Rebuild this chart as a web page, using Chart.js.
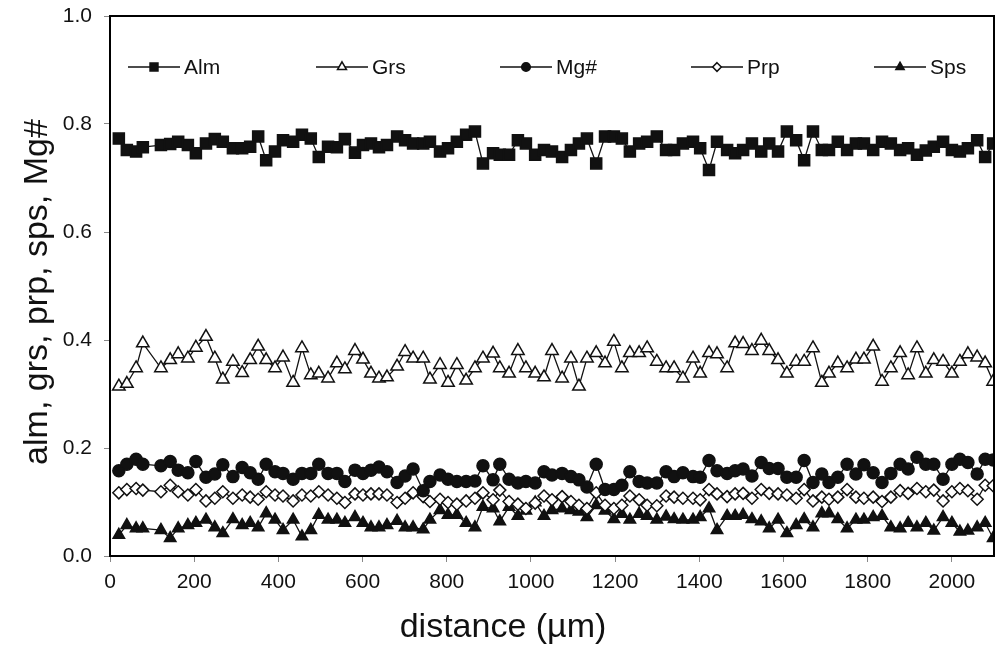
<!DOCTYPE html>
<html>
<head>
<meta charset="utf-8">
<script src="https://cdn.jsdelivr.net/npm/chart.js@4/dist/chart.umd.min.js"></script>
<style>
  html, body { margin: 0; padding: 0; background: #fff; }
  #wrap { width: 996px; height: 658px; position: relative; }
</style>
</head>
<body>
<div id="wrap"><canvas id="chart"></canvas></div>
<script>
// distance along the traverse (µm)
const distance = [
  21, 40, 62, 78, 121, 143, 162, 185, 204, 228,
  249, 268, 292, 314, 333, 352, 371, 392, 411, 435,
  456, 477, 496, 518, 539, 558, 582, 601, 620, 639,
  658, 682, 701, 720, 744, 760, 784, 803, 824, 846,
  867, 886, 910, 926, 948, 969, 988, 1010, 1031, 1050,
  1074, 1095, 1114, 1133, 1155, 1176, 1197, 1216, 1235, 1257,
  1276, 1299, 1321, 1340, 1361, 1385, 1402, 1423, 1442, 1466,
  1485, 1504, 1525, 1547, 1566, 1587, 1608, 1630, 1649, 1670,
  1691, 1708, 1729, 1751, 1772, 1791, 1813, 1834, 1855, 1877,
  1896, 1917, 1938, 1957, 1979, 2000, 2019, 2038, 2060, 2079, 2098
];

const alm = [
  0.773, 0.752, 0.749, 0.757, 0.761, 0.763, 0.767, 0.761, 0.746, 0.764,
  0.772, 0.767, 0.755, 0.755, 0.758, 0.777, 0.733, 0.749, 0.770, 0.767,
  0.780, 0.773, 0.739, 0.758, 0.757, 0.772, 0.747, 0.761, 0.764, 0.757,
  0.761, 0.777, 0.770, 0.764, 0.764, 0.767, 0.749, 0.755, 0.767, 0.780,
  0.786, 0.727, 0.746, 0.743, 0.743, 0.770, 0.764, 0.743, 0.752, 0.749,
  0.739, 0.752, 0.764, 0.773, 0.727, 0.777, 0.777, 0.773, 0.749, 0.764,
  0.767, 0.777, 0.752, 0.752, 0.764, 0.767, 0.755, 0.715, 0.767, 0.752,
  0.746, 0.752, 0.764, 0.749, 0.764, 0.749, 0.786, 0.770, 0.733, 0.786,
  0.752, 0.752, 0.767, 0.752, 0.764, 0.764, 0.752, 0.767, 0.764, 0.752,
  0.755, 0.743, 0.751, 0.758, 0.767, 0.752, 0.749, 0.755, 0.770, 0.739, 0.764
];

const grs = [
  0.314, 0.319, 0.348, 0.394, 0.348, 0.363, 0.374, 0.366, 0.386, 0.406,
  0.366, 0.327, 0.360, 0.339, 0.363, 0.388, 0.363, 0.348, 0.368, 0.321,
  0.385, 0.335, 0.338, 0.329, 0.357, 0.346, 0.380, 0.364, 0.338, 0.329,
  0.331, 0.351, 0.378, 0.366, 0.366, 0.327, 0.354, 0.321, 0.354, 0.325,
  0.348, 0.366, 0.375, 0.348, 0.338, 0.380, 0.348, 0.338, 0.331, 0.380,
  0.329, 0.366, 0.314, 0.366, 0.376, 0.357, 0.397, 0.348, 0.376, 0.376,
  0.385, 0.360, 0.348, 0.348, 0.329, 0.366, 0.338, 0.376, 0.374, 0.348,
  0.394, 0.393, 0.380, 0.399, 0.380, 0.363, 0.338, 0.360, 0.360, 0.385,
  0.321, 0.338, 0.357, 0.348, 0.364, 0.364, 0.388, 0.323, 0.348, 0.376,
  0.335, 0.385, 0.338, 0.363, 0.360, 0.338, 0.360, 0.374, 0.368, 0.357, 0.323
];

const mgNum = [
  0.158, 0.170, 0.179, 0.170, 0.167, 0.175, 0.159, 0.154, 0.175, 0.146,
  0.152, 0.169, 0.147, 0.164, 0.154, 0.142, 0.170, 0.156, 0.153, 0.142,
  0.153, 0.153, 0.170, 0.153, 0.153, 0.138, 0.159, 0.153, 0.159, 0.165,
  0.156, 0.136, 0.148, 0.161, 0.121, 0.138, 0.150, 0.142, 0.138, 0.138,
  0.139, 0.167, 0.141, 0.170, 0.142, 0.135, 0.138, 0.135, 0.156, 0.150,
  0.153, 0.147, 0.141, 0.128, 0.170, 0.123, 0.123, 0.131, 0.156, 0.138,
  0.135, 0.135, 0.156, 0.147, 0.154, 0.147, 0.146, 0.177, 0.158, 0.153,
  0.158, 0.161, 0.148, 0.173, 0.162, 0.162, 0.146, 0.146, 0.177, 0.136,
  0.152, 0.136, 0.146, 0.170, 0.152, 0.169, 0.154, 0.136, 0.153, 0.170,
  0.161, 0.183, 0.170, 0.170, 0.142, 0.170, 0.179, 0.173, 0.152, 0.179, 0.178
];

const prp = [
  0.117, 0.123, 0.125, 0.122, 0.119, 0.131, 0.119, 0.113, 0.123, 0.102,
  0.107, 0.119, 0.107, 0.113, 0.109, 0.105, 0.119, 0.113, 0.111, 0.102,
  0.113, 0.111, 0.119, 0.113, 0.107, 0.099, 0.115, 0.113, 0.115, 0.115,
  0.113, 0.099, 0.107, 0.117, 0.110, 0.101, 0.105, 0.099, 0.096, 0.102,
  0.107, 0.117, 0.104, 0.122, 0.101, 0.096, 0.088, 0.098, 0.111, 0.104,
  0.110, 0.101, 0.094, 0.088, 0.117, 0.094, 0.088, 0.094, 0.111, 0.104,
  0.094, 0.093, 0.111, 0.109, 0.107, 0.107, 0.104, 0.123, 0.115, 0.110,
  0.115, 0.116, 0.107, 0.123, 0.116, 0.115, 0.113, 0.107, 0.123, 0.102,
  0.109, 0.105, 0.109, 0.123, 0.109, 0.107, 0.109, 0.101, 0.109, 0.121,
  0.116, 0.125, 0.119, 0.122, 0.102, 0.119, 0.125, 0.121, 0.105, 0.131, 0.130
];

const sps = [
  0.039, 0.057, 0.051, 0.051, 0.048, 0.033, 0.051, 0.057, 0.061, 0.067,
  0.053, 0.042, 0.068, 0.057, 0.061, 0.053, 0.079, 0.067, 0.048, 0.067,
  0.036, 0.048, 0.076, 0.067, 0.067, 0.061, 0.072, 0.061, 0.053, 0.053,
  0.057, 0.065, 0.053, 0.053, 0.049, 0.067, 0.085, 0.076, 0.076, 0.061,
  0.053, 0.091, 0.088, 0.064, 0.091, 0.074, 0.084, 0.099, 0.074, 0.085,
  0.088, 0.085, 0.082, 0.072, 0.094, 0.084, 0.068, 0.078, 0.067, 0.078,
  0.074, 0.067, 0.073, 0.068, 0.067, 0.067, 0.072, 0.088, 0.048, 0.074,
  0.074, 0.076, 0.068, 0.064, 0.051, 0.067, 0.042, 0.057, 0.068, 0.053,
  0.079, 0.079, 0.068, 0.051, 0.067, 0.067, 0.072, 0.074, 0.053, 0.051,
  0.061, 0.053, 0.061, 0.047, 0.072, 0.061, 0.045, 0.047, 0.053, 0.061, 0.033
];

const seriesNames = ["Alm", "Grs", "Mg#", "Prp", "Sps"];
const xTicks = [0, 200, 400, 600, 800, 1000, 1200, 1400, 1600, 1800, 2000];
const yTicks = [0, 0.2, 0.4, 0.6, 0.8, 1.0];

const FONT = "'Liberation Sans', Arial, sans-serif";
const INK = "#111";

function toPoints(values) {
  return values.map((v, i) => ({ x: distance[i], y: v }));
}

function series(label, values, style, radius, fill) {
  return {
    label,
    data: toPoints(values),
    borderColor: INK,
    borderWidth: 1.3,
    pointStyle: style,
    pointRadius: radius,
    pointHoverRadius: radius,
    pointBackgroundColor: fill,
    pointBorderColor: INK,
    pointBorderWidth: 1.5,
    tension: 0
  };
}

// own marker drawing for the legend row
function drawMarker(ctx, style, x, y, r, fill) {
  ctx.save();
  ctx.fillStyle = fill;
  ctx.strokeStyle = INK;
  ctx.lineWidth = 1.5;
  ctx.beginPath();
  if (style === "rect") {
    const s = r * Math.SQRT1_2;
    ctx.rect(x - s, y - s, 2 * s, 2 * s);
  } else if (style === "circle") {
    ctx.arc(x, y, r, 0, Math.PI * 2);
  } else if (style === "rectRot") {
    ctx.moveTo(x, y - r);
    ctx.lineTo(x + r, y);
    ctx.lineTo(x, y + r);
    ctx.lineTo(x - r, y);
    ctx.closePath();
  } else if (style === "triangle") {
    const h = r * 1.5;
    const w = r * Math.sqrt(3) / 2;
    ctx.moveTo(x, y - r);
    ctx.lineTo(x + w, y - r + h);
    ctx.lineTo(x - w, y - r + h);
    ctx.closePath();
  }
  ctx.fill();
  ctx.stroke();
  ctx.restore();
}

const legendX = [44, 232, 416, 607, 790];

const legendPlugin = {
  id: "legendPlugin",
  afterDraw(c) {
    const { ctx, chartArea } = c;
    const y = chartArea.top + 51;
    ctx.save();
    ctx.font = "21px " + FONT;
    ctx.textBaseline = "middle";
    c.data.datasets.forEach((ds, i) => {
      const cx = chartArea.left + legendX[i];
      ctx.strokeStyle = INK;
      ctx.lineWidth = 1.3;
      ctx.beginPath();
      ctx.moveTo(cx - 26, y);
      ctx.lineTo(cx + 26, y);
      ctx.stroke();
      drawMarker(ctx, ds.pointStyle, cx, y, ds.pointRadius * 0.72, ds.pointBackgroundColor);
      ctx.fillStyle = INK;
      ctx.fillText(ds.label, cx + 30, y + 1);
    });
    ctx.restore();
  }
};

const framePlugin = {
  id: "framePlugin",
  afterDatasetsDraw(c) {
    const { ctx, chartArea } = c;
    ctx.save();
    ctx.strokeStyle = "#000";
    ctx.lineWidth = 2;
    ctx.strokeRect(chartArea.left, chartArea.top, chartArea.right - chartArea.left, chartArea.bottom - chartArea.top);
    ctx.restore();
  }
};

const axisTitlePlugin = {
  id: "axisTitlePlugin",
  afterDraw(c) {
    const { ctx, chartArea } = c;
    ctx.save();
    ctx.fillStyle = INK;
    ctx.font = "34px " + FONT;
    ctx.textAlign = "center";
    ctx.textBaseline = "middle";
    ctx.fillText("distance (µm)", 503, 628);
    ctx.translate(38, (chartArea.top + chartArea.bottom) / 2 + 6);
    ctx.rotate(-Math.PI / 2);
    ctx.fillText("alm, grs, prp, sps, Mg#", 0, 0);
    ctx.restore();
  }
};

new Chart(document.getElementById("chart"), {
  type: "line",
  data: {
    datasets: [
      series(seriesNames[0], alm, "rect", 7.8, INK),
      series(seriesNames[1], grs, "triangle", 7.2, "#fff"),
      series(seriesNames[2], mgNum, "circle", 6, INK),
      series(seriesNames[3], prp, "rectRot", 6, "#fff"),
      series(seriesNames[4], sps, "triangle", 6.6, INK)
    ]
  },
  options: {
    responsive: true,
    maintainAspectRatio: false,
    animation: false,
    layout: { autoPadding: false, padding: { top: 16, right: 2, left: 0, bottom: 0 } },
    plugins: {
      legend: { display: false },
      tooltip: { enabled: false }
    },
    scales: {
      x: {
        type: "linear",
        min: 0,
        max: 2100,
        afterBuildTicks: (s) => { s.ticks = xTicks.map((v) => ({ value: v })); },
        afterFit: (s) => { s.height = 102; s.paddingLeft = 0; s.paddingRight = 0; },
        border: { display: false },
        grid: { display: true, drawOnChartArea: false, drawTicks: true, tickLength: 6, color: "#888" },
        ticks: { color: INK, font: { family: FONT, size: 21 }, padding: 8, maxRotation: 0, autoSkip: false, callback: (v) => String(v) }
      },
      y: {
        type: "linear",
        min: 0,
        max: 1,
        afterBuildTicks: (s) => { s.ticks = yTicks.map((v) => ({ value: v })); },
        afterFit: (s) => { s.width = 110; s.paddingTop = 0; s.paddingBottom = 0; },
        border: { display: false },
        grid: { display: true, drawOnChartArea: false, drawTicks: true, tickLength: 6, color: "#888" },
        ticks: { color: INK, font: { family: FONT, size: 21 }, padding: 12, callback: (v) => v.toFixed(1) }
      }
    }
  },
  plugins: [framePlugin, legendPlugin, axisTitlePlugin]
});
</script>
</body>
</html>
